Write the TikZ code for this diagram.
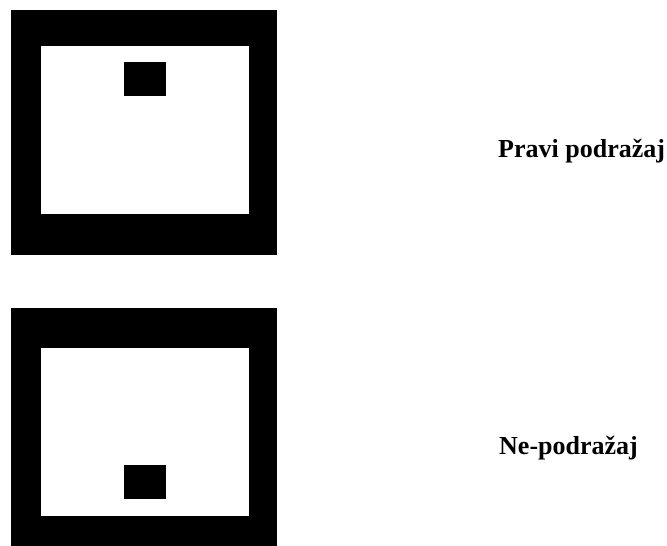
\documentclass[tikz,border=0pt]{standalone}
\usepackage{fontspec}
\setmainfont{Liberation Serif}
\begin{document}
\begin{tikzpicture}[x=1pt,y=-1pt,
  frame/.style={fill=black},
  hole/.style={fill=white},
  dot/.style={fill=black},
  lbl/.style={anchor=base west,inner sep=0pt,font=\fontsize{26}{30}\selectfont\bfseries}]
\useasboundingbox (0,0) rectangle (667,546);
\clip (0,0) rectangle (667,546);
% top stimulus
\path[frame] (10.7,10.3) rectangle (277,255);
\path[hole] (41.3,45.7) rectangle (249,213.7);
\path[dot] (124.3,62) rectangle (165.7,96.3);
% bottom stimulus
\path[frame] (10.7,308) rectangle (277,553);
\path[hole] (41.3,347.7) rectangle (249,515.5);
\path[dot] (124.3,465.3) rectangle (165.7,499.3);
% labels
\node[lbl] (pravi) at (498,157) {Pravi podražaj};
\node[lbl] (ne) at (499,454) {Ne-podražaj};
\end{tikzpicture}
\end{document}
